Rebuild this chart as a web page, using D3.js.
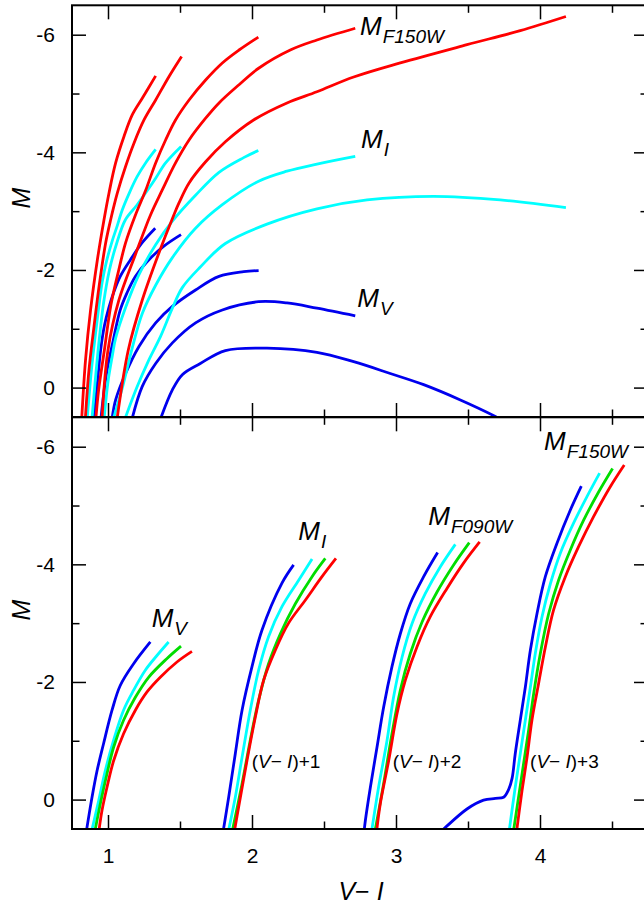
<!DOCTYPE html>
<html>
<head>
<meta charset="utf-8">
<script src="https://cdn.jsdelivr.net/npm/d3@7"></script>
<style>
  body { margin: 0; background: #fff; }
  svg { display: block; }
  text { font-family: "Liberation Sans", Arial, Helvetica, sans-serif; fill: #000; }
</style>
</head>
<body>
<svg id="chart" width="644" height="907"></svg>
<script>
// ---------- data: absolute magnitude M versus colour V-I ----------
// Upper panel: five isochrones, each shown in three bands.
const topF150W = [
  [[0.817,0.55],[0.844,-0.47],[0.879,-1.32],[0.926,-2.17],[0.972,-2.85],[1.007,-3.31],[1.053,-3.82],[1.111,-4.27],[1.169,-4.64],[1.238,-4.92],[1.331,-5.30]],
  [[0.842,0.55],[0.868,-0.30],[0.903,-1.04],[0.938,-1.72],[0.983,-2.45],[1.018,-2.85],[1.065,-3.31],[1.122,-3.76],[1.181,-4.16],[1.250,-4.55],[1.331,-4.89],[1.424,-5.29],[1.511,-5.63]],
  [[0.915,0.55],[0.935,0.04],[0.975,-0.64],[1.020,-1.40],[1.070,-1.95],[1.122,-2.46],[1.190,-2.93],[1.261,-3.35],[1.331,-3.82],[1.400,-4.21],[1.469,-4.55],[1.563,-4.89],[1.678,-5.23],[1.794,-5.52],[1.910,-5.74],[2.044,-5.96]],
  [[0.958,0.55],[1.000,-0.64],[1.076,-1.49],[1.190,-2.26],[1.296,-2.94],[1.377,-3.36],[1.469,-3.82],[1.563,-4.21],[1.678,-4.58],[1.771,-4.84],[1.910,-5.15],[2.046,-5.43],[2.266,-5.74],[2.451,-5.91],[2.717,-6.11]],
  [[1.062,0.55],[1.141,-0.64],[1.238,-1.49],[1.349,-2.26],[1.458,-2.94],[1.493,-3.14],[1.563,-3.48],[1.678,-3.84],[1.815,-4.18],[2.011,-4.55],[2.243,-4.84],[2.451,-5.03],[2.706,-5.28],[3.030,-5.52],[3.493,-5.83],[3.863,-6.07],[4.180,-6.31]]
];
const topI = [
  [[0.855,0.55],[0.885,-0.30],[0.910,-0.85],[0.935,-1.35],[0.960,-1.80],[0.990,-2.15],[1.030,-2.50],[1.060,-2.72],[1.099,-3.02],[1.150,-3.32],[1.203,-3.59],[1.261,-3.82],[1.331,-4.05]],
  [[0.888,0.55],[0.930,-0.60],[0.970,-1.45],[1.010,-2.00],[1.060,-2.45],[1.120,-2.85],[1.200,-3.10],[1.273,-3.35],[1.331,-3.56],[1.400,-3.82],[1.508,-4.10]],
  [[0.972,0.55],[1.000,-0.10],[1.030,-0.54],[1.053,-0.84],[1.122,-1.36],[1.215,-1.92],[1.331,-2.43],[1.447,-2.83],[1.608,-3.27],[1.771,-3.66],[1.942,-3.91],[2.044,-4.03]],
  [[1.035,0.55],[1.100,0.00],[1.169,-0.68],[1.238,-1.26],[1.331,-1.74],[1.447,-2.21],[1.608,-2.71],[1.794,-3.11],[2.046,-3.51],[2.243,-3.68],[2.451,-3.80],[2.717,-3.93]],
  [[1.115,0.55],[1.200,0.00],[1.280,-0.45],[1.365,-0.87],[1.447,-1.35],[1.516,-1.70],[1.641,-2.05],[1.815,-2.45],[2.104,-2.78],[2.451,-3.04],[2.799,-3.19],[3.261,-3.25],[3.724,-3.19],[4.180,-3.06]]
];
const topV = [
  [[0.903,0.55],[0.912,0.30],[0.926,-0.07],[0.949,-0.64],[0.975,-1.05],[1.005,-1.35],[1.040,-1.62],[1.085,-1.89],[1.155,-2.17],[1.236,-2.46],[1.328,-2.71]],
  [[0.950,0.55],[0.988,-0.22],[1.037,-0.81],[1.085,-1.32],[1.132,-1.61],[1.190,-1.89],[1.271,-2.14],[1.386,-2.40],[1.507,-2.60]],
  [[1.027,0.55],[1.053,0.21],[1.122,-0.24],[1.215,-0.70],[1.331,-1.10],[1.447,-1.38],[1.608,-1.66],[1.771,-1.89],[1.942,-1.97],[2.046,-1.99]],
  [[1.165,0.55],[1.238,-0.02],[1.331,-0.41],[1.447,-0.76],[1.608,-1.10],[1.794,-1.32],[2.046,-1.46],[2.243,-1.44],[2.451,-1.35],[2.717,-1.22]],
  [[1.362,0.55],[1.447,0.04],[1.516,-0.22],[1.641,-0.41],[1.815,-0.63],[2.104,-0.67],[2.451,-0.60],[2.706,-0.44],[2.960,-0.24],[3.192,-0.05],[3.447,0.21],[3.690,0.49],[3.750,0.57]]
];

// Lower panel: four models per band; colours are shifted by the offsets below.
const bandOffsets = [0, 1, 2, 3];
const botV = [
  [[0.849,0.55],[0.889,-0.04],[0.924,-0.49],[0.969,-0.95],[1.028,-1.52],[1.085,-1.94],[1.178,-2.31],[1.294,-2.68]],
  [[0.885,0.55],[0.935,0.02],[0.981,-0.49],[1.039,-1.01],[1.108,-1.52],[1.178,-1.86],[1.259,-2.20],[1.340,-2.45],[1.421,-2.68]],
  [[0.908,0.55],[0.951,0.02],[0.993,-0.44],[1.039,-0.89],[1.108,-1.35],[1.190,-1.74],[1.282,-2.08],[1.410,-2.40],[1.507,-2.61]],
  [[0.936,0.55],[0.958,0.19],[0.993,-0.21],[1.039,-0.66],[1.108,-1.12],[1.190,-1.52],[1.271,-1.83],[1.363,-2.08],[1.479,-2.34],[1.583,-2.52]]
];
const botI = [
  [[0.799,0.55],[0.838,-0.04],[0.884,-0.78],[0.931,-1.52],[1.000,-2.26],[1.069,-2.88],[1.208,-3.68],[1.289,-3.99]],
  [[0.835,0.55],[0.884,-0.04],[0.931,-0.72],[0.988,-1.52],[1.046,-2.20],[1.115,-2.77],[1.208,-3.28],[1.324,-3.73],[1.417,-4.09]],
  [[0.862,0.55],[0.931,-0.27],[0.988,-1.01],[1.046,-1.69],[1.115,-2.31],[1.197,-2.82],[1.301,-3.33],[1.417,-3.79],[1.509,-4.10]],
  [[0.877,0.55],[0.907,0.13],[0.965,-0.66],[1.023,-1.40],[1.081,-2.03],[1.162,-2.54],[1.254,-3.00],[1.370,-3.39],[1.486,-3.79],[1.583,-4.10]]
];
const botF090W = [
  [[0.778,0.55],[0.787,0.36],[0.822,-0.21],[0.868,-0.89],[0.914,-1.57],[0.972,-2.26],[1.030,-2.82],[1.099,-3.33],[1.192,-3.79],[1.289,-4.20]],
  [[0.830,0.55],[0.879,-0.21],[0.938,-1.01],[0.983,-1.74],[1.042,-2.42],[1.111,-2.99],[1.203,-3.50],[1.308,-3.96],[1.412,-4.34]],
  [[0.853,0.55],[0.914,-0.27],[0.972,-1.12],[1.030,-1.86],[1.099,-2.48],[1.181,-3.02],[1.285,-3.53],[1.400,-3.99],[1.509,-4.37]],
  [[0.865,0.55],[0.891,0.07],[0.949,-0.66],[1.007,-1.46],[1.065,-2.03],[1.146,-2.60],[1.238,-3.11],[1.354,-3.59],[1.469,-4.02],[1.581,-4.38]]
];
const botF150W = [
  [[0.308,0.55],[0.331,0.50],[0.493,0.16],[0.608,0.01],[0.690,-0.02],[0.747,-0.04],[0.782,-0.17],[0.806,-0.36],[0.828,-0.78],[0.863,-1.35],[0.898,-1.91],[0.933,-2.54],[0.979,-3.16],[1.037,-3.79],[1.118,-4.36],[1.210,-4.92],[1.287,-5.33]],
  [[0.785,0.55],[0.828,-0.21],[0.863,-0.78],[0.898,-1.35],[0.933,-1.91],[0.967,-2.48],[1.014,-3.11],[1.072,-3.67],[1.141,-4.19],[1.233,-4.70],[1.326,-5.15],[1.414,-5.55]],
  [[0.815,0.55],[0.851,-0.04],[0.886,-0.61],[0.921,-1.18],[0.956,-1.80],[1.002,-2.48],[1.060,-3.16],[1.129,-3.73],[1.210,-4.24],[1.303,-4.75],[1.407,-5.23],[1.504,-5.63]],
  [[0.837,0.55],[0.875,-0.15],[0.910,-0.72],[0.944,-1.35],[0.990,-1.97],[1.037,-2.59],[1.094,-3.22],[1.176,-3.79],[1.268,-4.30],[1.372,-4.81],[1.488,-5.32],[1.585,-5.69]]
];

const xMajorTicks = [1, 2, 3, 4];
const xMinorTicks = [1.5, 2.5, 3.5, 4.5];
const yMajorTicks = [-6, -4, -2, 0];
const yMinorTicks = [-5, -3, -1];

// ---------- layout ----------
const svg = d3.select("#chart");
const X0 = 72, X1 = 648;
const x = d3.scaleLinear().domain([0.75, 4.75]).range([X0, X1]);
const panels = [
  { name: "upper", y: d3.scaleLinear().domain([0.5, -6.5]).range([417, 5.3]) },
  { name: "lower", y: d3.scaleLinear().domain([0.5, -6.5]).range([829, 417.3]) }
];

const colTop = { V: "#0000ee", I: "#00ffff", F150W: "#ff0000" };
const colBot = ["#0000ee", "#00ffff", "#00dd00", "#ff0000"];

panels.forEach(p => {
  const [yb, yt] = p.y.range();
  p.top = yt; p.bottom = yb;
  svg.append("clipPath").attr("id", "clip-" + p.name)
    .append("rect").attr("x", X0).attr("y", yt).attr("width", X1 - X0).attr("height", yb - yt);
  p.g = svg.append("g").attr("clip-path", `url(#clip-${p.name})`);
});

function drawCurves(panel, curves, color, offset) {
  const line = d3.line()
    .x(d => x(d[0] + offset))
    .y(d => panel.y(d[1]))
    .curve(d3.curveCatmullRom.alpha(0.5));
  panel.g.selectAll(null).data(curves).enter().append("path")
    .attr("d", line)
    .attr("fill", "none")
    .attr("stroke", typeof color === "function" ? (d, i) => color(i) : color)
    .attr("stroke-width", 2.8)
    .attr("stroke-linejoin", "round");
}

// upper panel: V (blue) under I (cyan) under F150W (red)
drawCurves(panels[0], topV, colTop.V, 0);
drawCurves(panels[0], topI, colTop.I, 0);
drawCurves(panels[0], topF150W, colTop.F150W, 0);

// lower panel: one group per band
[botV, botI, botF090W, botF150W].forEach((band, b) => {
  drawCurves(panels[1], band, i => colBot[i], bandOffsets[b]);
});

// ---------- frames and ticks ----------
panels.forEach((p, idx) => {
  const g = svg.append("g");
  g.append("rect").attr("x", X0).attr("y", p.top).attr("width", X1 - X0).attr("height", p.bottom - p.top)
    .attr("fill", "none").attr("stroke", "#000").attr("stroke-width", 2);

  const tickAxes = [
    [d3.axisBottom, p.bottom, "x"], [d3.axisTop, p.top, "x"],
    [d3.axisLeft, X0, "y"], [d3.axisRight, X1, "y"]
  ];
  tickAxes.forEach(([fn, pos, dim]) => {
    const scale = dim === "x" ? x : p.y;
    const majors = dim === "x" ? xMajorTicks : yMajorTicks;
    const minors = dim === "x" ? xMinorTicks : yMinorTicks;
    [[majors, 14], [minors, 7.5]].forEach(([vals, len]) => {
      const ax = g.append("g")
        .attr("transform", dim === "x" ? `translate(0,${pos})` : `translate(${pos},0)`)
        .call(fn(scale).tickValues(vals).tickSize(-len).tickFormat(""));
      ax.select(".domain").remove();
      ax.selectAll("line").attr("stroke", "#000").attr("stroke-width", 1.5);
    });
  });

  // y tick labels
  const yl = g.append("g").attr("transform", `translate(${X0},0)`)
    .call(d3.axisLeft(p.y).tickValues(yMajorTicks).tickSize(0).tickPadding(17).tickFormat(d => String(d)));
  yl.select(".domain").remove();
  yl.selectAll("text").attr("font-size", 21).attr("font-family", null);

  // y title
  g.append("text")
    .attr("transform", `translate(30,${idx === 0 ? 198 : 610}) rotate(-90)`)
    .attr("text-anchor", "middle").attr("font-size", 25).attr("font-style", "italic")
    .text("M");
});

// x tick labels on the lower panel
const xl = svg.append("g").attr("transform", `translate(0,${panels[1].bottom})`)
  .call(d3.axisBottom(x).tickValues(xMajorTicks).tickSize(0).tickPadding(19).tickFormat(d => String(d)));
xl.select(".domain").remove();
xl.selectAll("text").attr("font-size", 21).attr("font-family", null);

// x title
const xt = svg.append("text").attr("x", 361).attr("y", 900).attr("text-anchor", "middle").attr("font-size", 25);
xt.append("tspan").attr("font-style", "italic").text("V");
xt.append("tspan").text("\u2212 ");
xt.append("tspan").attr("font-style", "italic").text("I");

// ---------- curve labels ----------
function magLabel(panel, vx, vy, sub) {
  const t = svg.append("text").attr("x", x(vx)).attr("y", panel.y(vy))
    .attr("font-size", 26).attr("font-style", "italic");
  t.append("tspan").text("M");
  t.append("tspan").attr("dx", 1).attr("dy", 8).attr("font-size", 19).text(sub);
}
magLabel(panels[0], 2.75, -6.0, "F150W");
magLabel(panels[0], 2.757, -4.07, "I");
magLabel(panels[0], 2.731, -1.375, "V");
magLabel(panels[1], 1.303, -2.935, "V");
magLabel(panels[1], 2.3215, -4.414, "I");
magLabel(panels[1], 3.224, -4.669, "F090W");
magLabel(panels[1], 4.028, -5.944, "F150W");

function offsetLabel(vx, k) {
  const t = svg.append("text").attr("x", x(vx)).attr("y", panels[1].y(-0.537)).attr("font-size", 19);
  t.append("tspan").text("(");
  t.append("tspan").attr("font-style", "italic").text("V");
  t.append("tspan").text("\u2212 ");
  t.append("tspan").attr("font-style", "italic").text("I");
  t.append("tspan").text(")+" + k);
}
offsetLabel(1.998, bandOffsets[1]);
offsetLabel(2.977, bandOffsets[2]);
offsetLabel(3.931, bandOffsets[3]);
</script>
</body>
</html>
